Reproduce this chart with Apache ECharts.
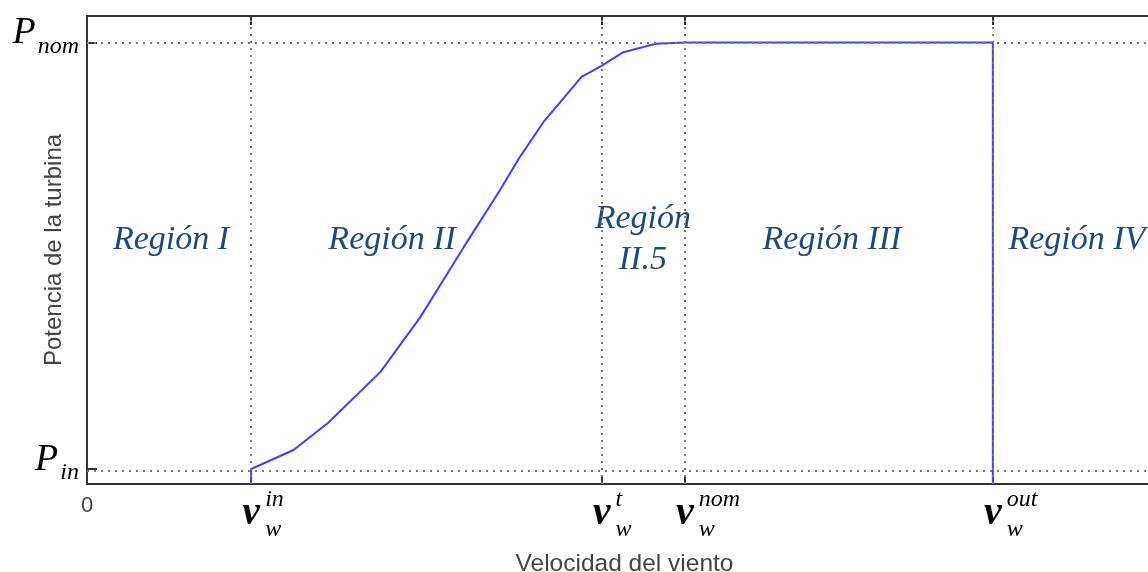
<!DOCTYPE html>
<html>
<head>
<meta charset="utf-8">
<script src="https://cdn.jsdelivr.net/npm/echarts@6/dist/echarts.min.js"></script>
<style>
html,body{margin:0;padding:0;background:#fff;}
#chart{width:1148px;height:572px;}
</style>
</head>
<body>
<div id="chart"></div>
<script>
// Curve of turbine power vs wind speed (normalized units)
const windSpeed = [4.53, 4.53, 5.7, 6.65, 8.1, 9.2, 10.4, 11.4, 11.95, 12.6, 13.65, 14.2, 14.8, 15.7, 16.5, 25, 25];
const power     = [0, 0.034, 0.077, 0.138, 0.254, 0.378, 0.537, 0.666, 0.741, 0.82, 0.922, 0.947, 0.978, 0.997, 1, 1, 0];

// Characteristic wind speeds: v_w^in, v_w^t, v_w^nom, v_w^out
const speedTicks = [4.53, 14.2, 16.5, 25];
const speedSup = ['in', 't', 'nom', 'out'];
const speedSub = ['w', 'w', 'w', 'w'];

// Characteristic powers: P_in, P_nom
const powerTicks = [0.034, 1];
const powerSub = ['in', 'nom'];

// Region annotations
const regionNames = ['Región I', 'Región II', 'Región\nII.5', 'Región III', 'Región IV'];
const regionX = [2.32, 8.42, 15.34, 20.56, 27.32];
const regionY = [0.553, 0.553, 0.553, 0.553, 0.553];

const xName = 'Velocidad del viento';
const yName = 'Potencia de la turbina';

const SERIF = '"Liberation Serif", "Times New Roman", serif';
const SANS = '"Liberation Sans", Arial, sans-serif';

function idxOf(arr, v) {
  for (let i = 0; i < arr.length; i++) if (Math.abs(arr[i] - v) < 1e-6) return i;
  return -1;
}

const X_MIN = 0, X_MAX = 30, Y_MIN = 0, Y_MAX = 1.06;
const axisColor = '#333';

function baseX(extra) {
  return Object.assign({
    type: 'value', min: X_MIN, max: X_MAX, gridIndex: 0,
    splitLine: { show: false },
    axisLine: { show: false },
    axisTick: { show: false },
    axisLabel: { show: false }
  }, extra);
}

const chart = echarts.init(document.getElementById('chart'), null, { renderer: 'canvas' });

const option = {
  animation: false,
  backgroundColor: '#fff',
  grid: { left: 87, top: 16, width: 1087, height: 468, containLabel: false, outerBoundsMode: 'none' },
  xAxis: [
    baseX({
      position: 'bottom',
      name: xName,
      nameLocation: 'middle',
      nameGap: 68,
      nameMoveOverlap: false,
      nameTextStyle: { fontFamily: SANS, fontSize: 24.5, color: '#444', padding: [0, 12, 0, 0] },
      axisLine: { show: true, onZero: false, lineStyle: { color: axisColor, width: 2 } },
      axisTick: { show: true, inside: true, length: 9, customValues: speedTicks, lineStyle: { color: axisColor, width: 2 } },
      axisLabel: { show: true, customValues: [0], margin: 11, fontFamily: SANS, fontSize: 22, color: '#444',
        formatter: v => String(v) }
    }),
    baseX({
      position: 'bottom',
      axisLabel: { show: true, customValues: speedTicks, margin: 10, fontFamily: SERIF, fontStyle: 'italic',
        fontWeight: 'bold', fontSize: 40, color: '#000', formatter: () => 'v' }
    }),
    baseX({
      position: 'bottom',
      axisLabel: { show: true, customValues: speedTicks, margin: 4, fontFamily: SERIF, fontStyle: 'italic',
        fontSize: 24, color: '#000', align: 'left', padding: [0, 0, 0, 14],
        formatter: v => { const i = idxOf(speedTicks, v); return i >= 0 ? speedSup[i] : ''; } }
    }),
    baseX({
      position: 'bottom',
      axisLabel: { show: true, customValues: speedTicks, margin: 34, fontFamily: SERIF, fontStyle: 'italic',
        fontSize: 24, color: '#000', align: 'left', padding: [0, 0, 0, 14],
        formatter: v => { const i = idxOf(speedTicks, v); return i >= 0 ? speedSub[i] : ''; } }
    }),
    baseX({
      position: 'top',
      axisLine: { show: true, onZero: false, lineStyle: { color: axisColor, width: 2 } },
      axisTick: { show: true, inside: true, length: 9, customValues: speedTicks, lineStyle: { color: axisColor, width: 2 } }
    })
  ],
  yAxis: [
    {
      type: 'value', min: Y_MIN, max: Y_MAX, position: 'left',
      name: yName, nameLocation: 'middle', nameGap: 21,
      nameMoveOverlap: false,
      nameTextStyle: { fontFamily: SANS, fontSize: 24, color: '#444' },
      splitLine: { show: false },
      axisLine: { show: true, onZero: false, lineStyle: { color: axisColor, width: 2 } },
      axisTick: { show: true, inside: true, length: 10, customValues: powerTicks, lineStyle: { color: axisColor, width: 2 } },
      axisLabel: {
        show: true, customValues: powerTicks, margin: 8,
        formatter: v => { const i = idxOf(powerTicks, v); return i >= 0 ? '{p|P}{s|' + powerSub[i] + '}' : ''; },
        rich: {
          p: { fontFamily: SERIF, fontStyle: 'italic', fontSize: 38, lineHeight: 38, color: '#000', padding: [0, 2, 18, 0], verticalAlign: 'middle' },
          s: { fontFamily: SERIF, fontStyle: 'italic', fontSize: 24, lineHeight: 24, color: '#000', padding: [8, 0, 0, 0], verticalAlign: 'middle' }
        }
      }
    }
  ],
  series: [
    {
      type: 'line',
      xAxisIndex: 0, yAxisIndex: 0,
      data: [],
      silent: true,
      z: 1,
      markLine: {
        silent: true,
        symbol: ['none', 'none'],
        label: { show: false },
        lineStyle: { color: '#777', width: 2, type: [2, 5] },
        data: speedTicks.map(v => ({ xAxis: v })).concat(powerTicks.map(v => ({ yAxis: v })))
      }
    },
    {
      type: 'line',
      xAxisIndex: 0, yAxisIndex: 0,
      data: windSpeed.map((x, i) => [x, power[i]]),
      showSymbol: false,
      symbol: 'none',
      lineStyle: { color: '#4040ff', width: 2 },
      z: 3
    },
    {
      type: 'scatter',
      xAxisIndex: 0, yAxisIndex: 0,
      data: regionNames.map((n, i) => ({ name: n, value: [regionX[i], regionY[i]] })),
      symbolSize: 2,
      itemStyle: { color: 'rgba(255,255,255,0)', opacity: 1 },
      z: 4,
      silent: true,
      labelLayout: { hideOverlap: false },
      label: {
        show: true, position: 'inside', formatter: '{b}', opacity: 1,
        textBorderWidth: 0, fontWeight: 'normal',
        fontFamily: SERIF, fontStyle: 'italic', fontSize: 34, lineHeight: 41, color: '#1f497d', align: 'center'
      }
    }
  ]
};

chart.setOption(option);
</script>
</body>
</html>
